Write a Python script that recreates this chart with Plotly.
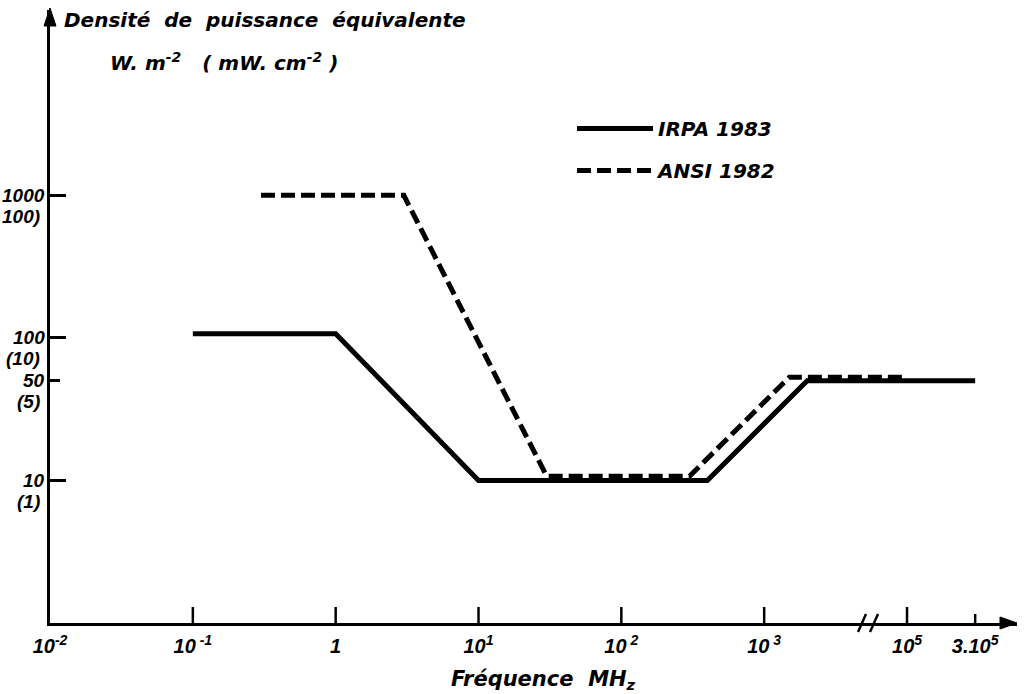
import math
import plotly.graph_objects as go

# ---- data ----
irpa_freq = [0.1, 1, 10, 400, 2000, 300000]          # MHz
irpa_density = [107, 107, 10, 10, 50, 50]            # W/m2
ansi_freq = [0.3, 3, 30, 300, 1500, 100000]          # MHz
ansi_density = [1000, 1000, 10.7, 10.7, 53, 53]      # W/m2

x_tick_freqs = [0.01, 0.1, 1, 10, 100, 1000, 100000]
x_tick_labels = ["10<sup>-2</sup>", "10<sup> -1</sup>", "1", "10<sup>1</sup>",
                 "10<sup> 2</sup>", "10<sup> 3</sup>", "10<sup>5</sup>"]
x_minor_freqs = [300000]
x_minor_labels = ["3.10<sup>5</sup>"]

y_tick_vals = [1000, 100, 10]
y_minor_vals = [50]
y_label_main = {1000: "1000", 100: "100", 50: "50", 10: "10"}
y_label_sub = {1000: "100)", 100: "(10)", 50: "(5)", 10: "(1)"}

series_names = ["IRPA 1983", "ANSI 1982"]

BREAK_F = 1e4  # axis break: frequencies above are shifted one decade left


def pos(f):
    p = math.log10(f)
    return p - 1 if f > BREAK_F else p


FONT = dict(family="DejaVu Sans", color="black", style="italic", weight="bold")
NUMFONT = dict(family="Liberation Sans", color="black", style="italic", weight="bold")

fig = go.Figure()
fig.add_trace(go.Scatter(
    x=[pos(f) for f in irpa_freq], y=irpa_density, mode="lines",
    name=series_names[0], legendgroup="a",
    line=dict(color="black", width=5)))
fig.add_trace(go.Scatter(
    x=[pos(f) for f in ansi_freq], y=ansi_density, mode="lines",
    name=series_names[1], legendgroup="b",
    line=dict(color="black", width=5, dash="14px,6px")))

L, R, T, B = 50, 9, 10, 71
W, H = 1026, 694
PW, PH = W - L - R, H - T - B


def px2paper_x(px):
    return (px - L) / PW


def px2paper_y(py):
    return (H - B - py) / PH


ticktext_all = x_tick_labels + x_minor_labels
tickvals_all = [pos(f) for f in x_tick_freqs] + [pos(f) for f in x_minor_freqs]

fig.update_layout(
    width=W, height=H,
    margin=dict(l=L, r=R, t=T, b=B, pad=0),
    paper_bgcolor="white", plot_bgcolor="white",
    showlegend=True,
    legend=dict(x=px2paper_x(572), y=px2paper_y(109), xanchor="left", yanchor="top",
                font=dict(size=20, **FONT), bgcolor="rgba(0,0,0,0)",
                tracegroupgap=13, itemwidth=76),
    xaxis=dict(range=[-2, 4.77], showgrid=False, zeroline=False,
               showline=True, linecolor="black", linewidth=3,
               tickmode="array", tickvals=tickvals_all, ticktext=ticktext_all,
               ticks="", tickfont=dict(size=20, **NUMFONT), ticklabelstandoff=3,
               fixedrange=True),
    yaxis=dict(type="log", range=[0, 4.3], showgrid=False, zeroline=False,
               showline=True, linecolor="black", linewidth=3,
               tickmode="array", tickvals=y_tick_vals, showticklabels=False,
               ticks="inside", ticklen=16, tickwidth=2.5, tickcolor="black",
               minor=dict(tickmode="array", tickvals=y_minor_vals, ticks="inside",
                          ticklen=10, tickwidth=2.5, tickcolor="black"),
               fixedrange=True),
)

shapes = []
# x ticks (inside, short vertical segments at tick positions)
for f in x_tick_freqs[1:]:
    shapes.append(dict(type="line", xref="x", yref="paper", x0=pos(f), x1=pos(f),
                       y0=0, y1=16 / PH, line=dict(color="black", width=2.5)))
for f in x_minor_freqs:
    shapes.append(dict(type="line", xref="x", yref="paper", x0=pos(f), x1=pos(f),
                       y0=0, y1=9 / PH, line=dict(color="black", width=2.5)))
# axis break marks
for bx in (862, 874):
    shapes.append(dict(type="line", xref="paper", yref="paper",
                       x0=px2paper_x(bx - 4), x1=px2paper_x(bx + 4),
                       y0=px2paper_y(632), y1=px2paper_y(614),
                       line=dict(color="black", width=2.5)))
# arrow heads
shapes.append(dict(type="path", xref="paper", yref="paper",
                   path="M {} {} L {} {} L {} {} Z".format(
                       px2paper_x(1017), px2paper_y(623),
                       px2paper_x(1000), px2paper_y(617),
                       px2paper_x(1000), px2paper_y(629)),
                   fillcolor="black", line=dict(color="black", width=1)))
shapes.append(dict(type="path", xref="paper", yref="paper",
                   path="M {} {} L {} {} L {} {} Z".format(
                       px2paper_x(L), px2paper_y(8),
                       px2paper_x(L - 6), px2paper_y(26),
                       px2paper_x(L + 6), px2paper_y(26)),
                   fillcolor="black", line=dict(color="black", width=1)))
fig.update_layout(shapes=shapes)

annotations = []
for v in y_tick_vals + y_minor_vals:
    annotations.append(dict(xref="paper", yref="y", x=0, y=math.log10(v),
                            xanchor="right", yanchor="middle", xshift=-3,
                            text=y_label_main[v], showarrow=False,
                            font=dict(size=19, **NUMFONT)))
    annotations.append(dict(xref="paper", yref="y", x=0, y=math.log10(v),
                            xanchor="right", yanchor="middle", xshift=-8, yshift=-21,
                            text=y_label_sub[v], showarrow=False,
                            font=dict(size=19, **NUMFONT)))
annotations.append(dict(xref="paper", yref="paper", x=px2paper_x(62), y=px2paper_y(20),
                        xanchor="left", yanchor="middle",
                        text="Densité  de  puissance  équivalente", showarrow=False,
                        font=dict(size=20, **FONT)))
annotations.append(dict(xref="paper", yref="paper", x=px2paper_x(108), y=px2paper_y(62),
                        xanchor="left", yanchor="middle",
                        text="W. m<sup>-2</sup>   ( mW. cm<sup>-2</sup> )", showarrow=False,
                        font=dict(size=20, **FONT)))
annotations.append(dict(xref="paper", yref="paper", x=px2paper_x(543), y=px2paper_y(680),
                        xanchor="center", yanchor="middle",
                        text="Fréquence  MH<sub>z</sub>", showarrow=False,
                        font=dict(size=21, **FONT)))
fig.update_layout(annotations=annotations)

fig.write_html("out.html")
